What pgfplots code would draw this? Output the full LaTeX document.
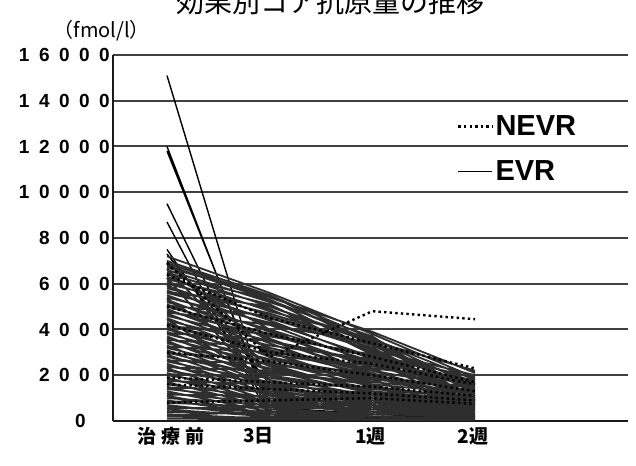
\documentclass[border=0pt]{standalone}
\usepackage{fontspec}
\usepackage{pgfplots}
\pgfplotsset{compat=1.18}
\usetikzlibrary{calc}
\setmainfont{Liberation Sans}
\newfontfamily\cjk{Noto Sans CJK JP}
\newfontfamily\tickfont[LetterSpace=50]{Liberation Sans}
\begin{document}
\begin{tikzpicture}[x=1pt,y=1pt]
\begin{axis}[
  name=ax, scale only axis,
  width=515pt, height=366pt,
  xmin=-0.526, xmax=4.49, ymin=0, ymax=16000,
  axis x line=bottom, axis y line=left,
  axis line style={-, line width=1.8pt, black!90},
  major tick length=0pt,
  scaled y ticks=false,
  ytick={0,2000,4000,6000,8000,10000,12000,14000,16000},
  yticklabels={0\rule{24pt}{0pt},2000,4000,6000,8000,10000,12000,14000,16000},
  yticklabel style={font=\tickfont\bfseries\fontsize{19}{21}\selectfont, inner sep=0pt, xshift=-3pt},
  xtick={0.04,0.89,1.98,2.98},
  xticklabels={治\hspace{5pt}療\hspace{5pt}前,3日,1週,2週},
  xticklabel style={font=\cjk\bfseries\fontsize{19}{21}\selectfont, yshift=-3pt},
  ymajorgrids, major grid style={black!75, line width=2pt},
  unbounded coords=jump,
  legend image code/.code={\draw[#1] (0pt,0pt) -- (34pt,0pt);},
  legend style={at={(0.662,0.845)}, anchor=north west, draw=none, fill=none,
    font=\bfseries\fontsize{29}{32}\selectfont, row sep=19pt},
  legend cell align=left,
]
\coordinate (O) at (rel axis cs:0,0);
\addlegendimage{black, line width=2.4pt, dash pattern=on 2.4pt off 3.2pt}
\addlegendentry{NEVR}
\addlegendimage{black, line width=1.2pt}
\addlegendentry{EVR}
% EVR outliers
\addplot[forget plot, black, line width=1.4pt] coordinates {
(0,15100) (1,200) (2,100) (3,50) (0,nan)
(0,12000) (1,400) (2,200) (3,100) (0,nan)
(0,11800) (1,600) (2,300) (3,100) (0,nan)
(0,9500) (1,300) (2,150) (3,80) (0,nan)
(0,8700) (1,150) (2,100) (3,50) (0,nan)
(0,7500) (1,900) (2,400) (3,200) (0,nan)
(0,7300) (1,1600) (2,800) (3,300)
};
% EVR main
\addplot[forget plot, black!82, line width=1.8pt] coordinates {
(0,7200) (1,5600) (2,3800) (3,1900) (0,nan)
(0,7000) (1,5500) (2,3600) (3,1500) (0,nan)
(0,6900) (1,5400) (2,3900) (3,2100) (0,nan)
(0,6800) (1,5300) (2,3500) (3,1200) (0,nan)
(0,6700) (1,5500) (2,3300) (3,1700) (0,nan)
(0,6600) (1,5200) (2,3700) (3,900) (0,nan)
(0,6500) (1,5000) (2,3400) (3,1400) (0,nan)
(0,6400) (1,5300) (2,3100) (3,600) (0,nan)
(0,6300) (1,4800) (2,3600) (3,1800) (0,nan)
(0,6200) (1,5100) (2,2900) (3,1100) (0,nan)
(0,6100) (1,4600) (2,3200) (3,700) (0,nan)
(0,6000) (1,4900) (2,3000) (3,1600) (0,nan)
(0,5900) (1,4400) (2,2700) (3,400) (0,nan)
(0,5800) (1,4700) (2,3300) (3,1300) (0,nan)
(0,5700) (1,4200) (2,2500) (3,1000) (0,nan)
(0,5600) (1,4500) (2,3100) (3,2000) (0,nan)
(0,5500) (1,3900) (2,2300) (3,500) (0,nan)
(0,5400) (1,4300) (2,2800) (3,1500) (0,nan)
(0,5300) (1,3600) (2,2000) (3,800) (0,nan)
(0,5200) (1,4000) (2,2600) (3,1200) (0,nan)
(0,5100) (1,3400) (2,1800) (3,300) (0,nan)
(0,5000) (1,3800) (2,2400) (3,1700) (0,nan)
(0,4900) (1,3200) (2,2100) (3,600) (0,nan)
(0,4800) (1,3700) (2,2900) (3,1900) (0,nan)
(0,4700) (1,3000) (2,1600) (3,200) (0,nan)
(0,4600) (1,3500) (2,2200) (3,1400) (0,nan)
(0,4500) (1,2800) (2,1900) (3,900) (0,nan)
(0,4400) (1,3300) (2,2700) (3,1600) (0,nan)
(0,4300) (1,2600) (2,1500) (3,400) (0,nan)
(0,4200) (1,3100) (2,2000) (3,1100) (0,nan)
(0,4100) (1,2400) (2,1300) (3,700) (0,nan)
(0,4000) (1,2900) (2,2300) (3,1800) (0,nan)
(0,3900) (1,2200) (2,1200) (3,300) (0,nan)
(0,3800) (1,2700) (2,1700) (3,1300) (0,nan)
(0,3700) (1,2000) (2,1000) (3,500) (0,nan)
(0,3600) (1,2500) (2,1900) (3,1500) (0,nan)
(0,3500) (1,1800) (2,900) (3,200) (0,nan)
(0,3400) (1,2300) (2,1400) (3,1000) (0,nan)
(0,3300) (1,1600) (2,800) (3,600) (0,nan)
(0,3200) (1,2100) (2,1600) (3,1200) (0,nan)
(0,3100) (1,1500) (2,700) (3,100) (0,nan)
(0,3000) (1,1900) (2,1100) (3,800) (0,nan)
(0,2900) (1,1400) (2,600) (3,400) (0,nan)
(0,2800) (1,2000) (2,1300) (3,900) (0,nan)
(0,2700) (1,1200) (2,500) (3,200) (0,nan)
(0,2600) (1,1700) (2,1000) (3,700) (0,nan)
(0,2500) (1,1100) (2,700) (3,300) (0,nan)
(0,2400) (1,1600) (2,1200) (3,1000) (0,nan)
(0,2300) (1,900) (2,400) (3,100) (0,nan)
(0,2200) (1,1500) (2,900) (3,600) (0,nan)
(0,2100) (1,800) (2,300) (3,200) (0,nan)
(0,2000) (1,1300) (2,800) (3,500) (0,nan)
(0,1900) (1,700) (2,500) (3,300) (0,nan)
(0,1800) (1,1200) (2,1000) (3,800) (0,nan)
(0,1700) (1,600) (2,200) (3,100) (0,nan)
(0,1600) (1,1000) (2,700) (3,400) (0,nan)
(0,1500) (1,500) (2,300) (3,200) (0,nan)
(0,1400) (1,900) (2,600) (3,500) (0,nan)
(0,1300) (1,400) (2,200) (3,100) (0,nan)
(0,1200) (1,800) (2,500) (3,300) (0,nan)
(0,1100) (1,300) (2,100) (3,50) (0,nan)
(0,1000) (1,700) (2,400) (3,200) (0,nan)
(0,900) (1,300) (2,200) (3,100) (0,nan)
(0,800) (1,600) (2,500) (3,400) (0,nan)
(0,700) (1,200) (2,100) (3,50) (0,nan)
(0,600) (1,400) (2,300) (3,200) (0,nan)
(0,500) (1,200) (2,100) (3,50) (0,nan)
(0,400) (1,300) (2,200) (3,100) (0,nan)
(0,300) (1,100) (2,50) (3,30) (0,nan)
(0,200) (1,150) (2,100) (3,50) (0,nan)
(0,100) (1,80) (2,50) (3,30) (0,nan)
(0,6950) (1,3000) (2,1500) (3,500) (0,nan)
(0,6650) (1,2000) (2,1000) (3,300) (0,nan)
(0,6450) (1,4000) (2,2000) (3,800) (0,nan)
(0,6250) (1,1200) (2,600) (3,200) (0,nan)
(0,5950) (1,3500) (2,2600) (3,1600) (0,nan)
(0,5650) (1,5000) (2,3500) (3,2200) (0,nan)
(0,5350) (1,2500) (2,1200) (3,600) (0,nan)
(0,5050) (1,4600) (2,3200) (3,1000) (0,nan)
(0,4750) (1,4200) (2,3400) (3,1300) (0,nan)
(0,4450) (1,1500) (2,700) (3,300) (0,nan)
(0,4150) (1,3800) (2,2800) (3,1400) (0,nan)
(0,3850) (1,3500) (2,2500) (3,1100) (0,nan)
(0,3550) (1,3200) (2,2200) (3,900) (0,nan)
(0,3250) (1,3000) (2,2400) (3,1700) (0,nan)
(0,2950) (1,2700) (2,2000) (3,1300) (0,nan)
(0,2650) (1,2500) (2,1800) (3,1500) (0,nan)
(0,2350) (1,2200) (2,1600) (3,1200) (0,nan)
(0,2050) (1,1900) (2,1400) (3,1100) (0,nan)
(0,1750) (1,1600) (2,1500) (3,1000) (0,nan)
(0,1450) (1,1400) (2,1100) (3,900) (0,nan)
(0,1150) (1,1100) (2,900) (3,700) (0,nan)
(0,850) (1,900) (2,800) (3,600) (0,nan)
(0,550) (1,600) (2,700) (3,500) (0,nan)
(0,250) (1,400) (2,300) (3,200)
};
% NEVR
\addplot[forget plot, black, line width=2.4pt, dash pattern=on 2.4pt off 3.2pt] coordinates {
(0,6900) (1,2800) (2,4800) (3,4450) (0,nan)
(0,6400) (1,4500) (2,3400) (3,2300) (0,nan)
(0,5000) (1,3800) (2,2800) (3,1700) (0,nan)
(0,4200) (1,3000) (2,2500) (3,1600) (0,nan)
(0,3000) (1,2600) (2,2000) (3,1300) (0,nan)
(0,1900) (1,1700) (2,1500) (3,1100) (0,nan)
(0,1600) (1,1400) (2,1200) (3,900) (0,nan)
(0,800) (1,900) (2,1000) (3,750)
};
\end{axis}
\node[anchor=base, font=\cjk\fontsize{28}{30}\selectfont] at ($(O)+(217,408)$) {効果別コア抗原量の推移};
\node[anchor=west, font=\cjk\fontsize{20}{22}\selectfont] at ($(O)+(-63,390)$) {（fmol/l）};
\pgfresetboundingbox
\useasboundingbox ($(O)+(-113,-44)$) rectangle ++(636,465);
\end{tikzpicture}
\end{document}
